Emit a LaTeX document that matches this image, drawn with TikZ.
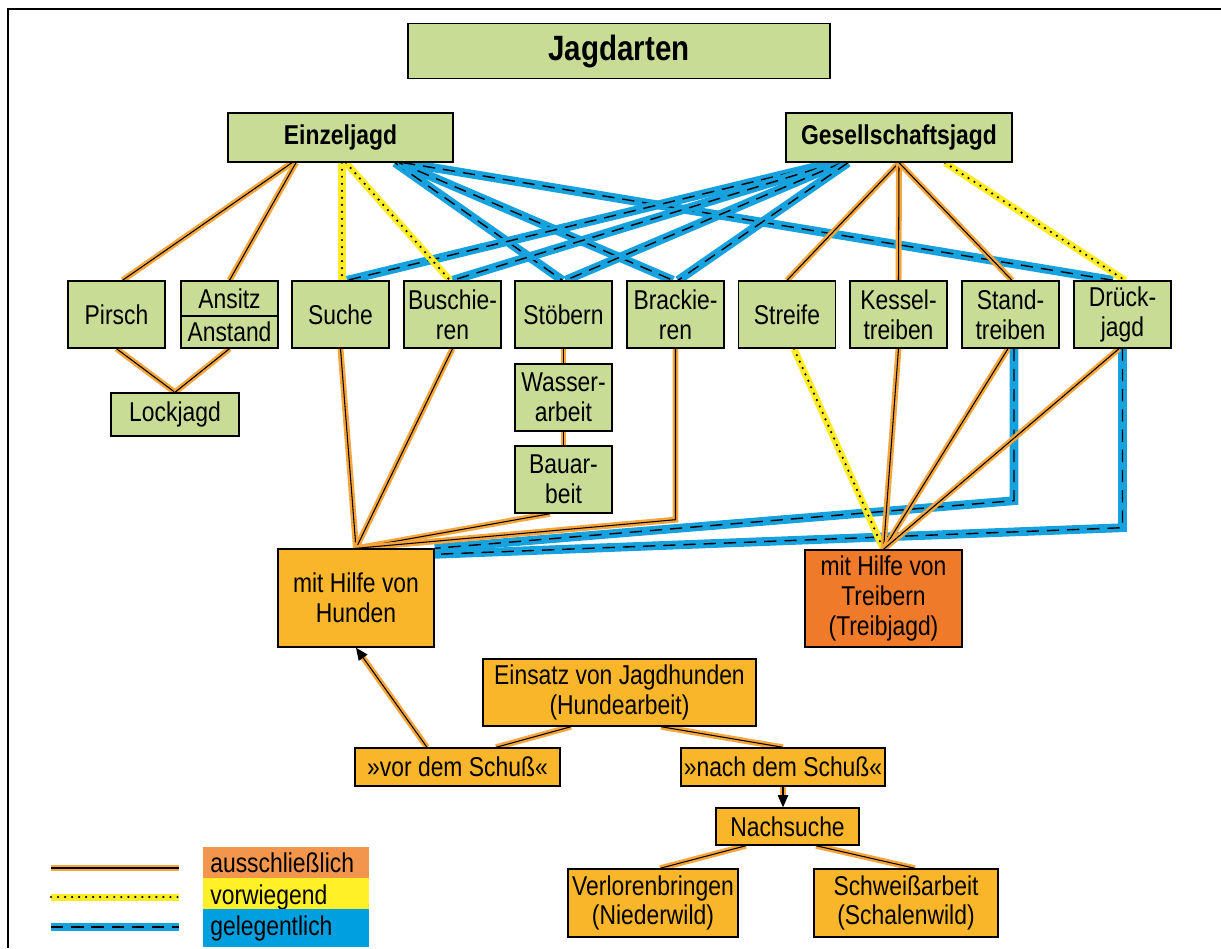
\documentclass[tikz,border=0pt]{standalone}
\usepackage{fontspec}
\setmainfont{Liberation Sans}[FakeStretch=0.84]
\usetikzlibrary{arrows.meta,backgrounds}
\definecolor{gruen}{RGB}{200,220,150}
\definecolor{hundfarbe}{RGB}{250,182,42}
\definecolor{treibfarbe}{RGB}{238,122,42}
\definecolor{linieorange}{RGB}{246,166,60}
\definecolor{liniegelb}{RGB}{255,236,40}
\definecolor{linieblau}{RGB}{22,162,222}
\definecolor{legorange}{RGB}{242,150,78}
\definecolor{leggelb}{RGB}{255,240,40}
\definecolor{legblau}{RGB}{0,160,224}
\newcommand{\grundschrift}{\fontsize{15.5}{17}\selectfont}
\begin{document}
\begin{tikzpicture}[
      x=0.02cm, y=-0.02cm,
      font=\grundschrift,
      box/.style={draw, line width=0.8pt, fill=gruen, align=center, inner sep=1pt, minimum width=1.94cm, minimum height=1.34cm},
      kasten/.style={draw, line width=0.8pt, fill=hundfarbe, align=center, inner sep=1pt},
      titel/.style={font=\grundschrift\bfseries},
      legende/.style={anchor=west, align=left, text width=3.04cm, inner xsep=0.14cm, minimum height=0.64cm},
      nur/.style={draw=linieorange, line width=3.4pt, postaction={draw=black, line width=0.6pt}},
      meist/.style={draw=liniegelb, line width=4pt, postaction={draw=black, line width=1.4pt, line cap=round, dash pattern=on 0pt off 4pt}},
      selten/.style={draw=linieblau, line width=5pt, postaction={draw=black, line width=0.8pt, dash pattern=on 7pt off 4.5pt}},
      pfeilgrund/.style={draw=linieorange, line width=3.4pt, shorten >=6pt},
      pfeil/.style={black, line width=0.6pt, -{Triangle[length=7pt, width=6pt]}}
    ]
      \useasboundingbox (0,0) rectangle (1221,948);
      \draw[line width=0.8pt] (8,948) -- (8,9) -- (1221,9);

      \node[box, minimum width=8.44cm, minimum height=1.1cm, font=\fontsize{20}{24}\selectfont\bfseries] (jagdarten) at (619,51) {Jagdarten};
      \node[box, titel, minimum width=4.5cm, minimum height=0.98cm] (einzel) at (340.5,137.5) {Einzeljagd};
      \node[box, titel, minimum width=4.52cm, minimum height=0.98cm] (gesell) at (899,137.5) {Gesellschaftsjagd};

      \node[box] (pirsch) at (116.5,314.5) {Pirsch};
      \node[box, minimum height=0.7cm] (ansitz) at (229.5,298.5) {Ansitz};
      \node[box, minimum height=0.64cm] (anstand) at (229.5,332) {Anstand};
      \node[box] (suche) at (340.5,314.5) {Suche};
      \node[box] (busch) at (452.5,314.5) {Buschie-\\ren};
      \node[box] (stoebern) at (563.5,314.5) {Stöbern};
      \node[box] (brack) at (675.5,314.5) {Brackie-\\ren};
      \node[box] (streife) at (787,314.5) {Streife};
      \node[box] (kessel) at (898.5,314.5) {Kessel-\\treiben};
      \node[box] (stand) at (1010.5,314.5) {Stand-\\treiben};
      \node[box] (drueck) at (1122.5,314.5) {Drück-\\jagd};
      \node[box] (wasser) at (563.5,397.5) {Wasser-\\arbeit};
      \node[box] (bau) at (563.5,479.5) {Bauar-\\beit};
      \node[box, minimum width=2.56cm, minimum height=0.86cm] (lock) at (175,414.5) {Lockjagd};

      \node[kasten, minimum width=3.12cm, minimum height=1.96cm] (hunden) at (356,598) {mit Hilfe von\\Hunden};
      \node[kasten, fill=treibfarbe, minimum width=3.14cm, minimum height=1.94cm] (treiber) at (883.5,598.5) {mit Hilfe von\\Treibern\\(Treibjagd)};
      \node[kasten, minimum width=5.46cm, minimum height=1.34cm] (einsatz) at (619.5,692.5) {Einsatz von Jagdhunden\\(Hundearbeit)};
      \node[kasten, minimum width=4.1cm, minimum height=0.76cm] (vor) at (457.5,767) {»vor dem Schuß«};
      \node[kasten, minimum width=4.08cm, minimum height=0.76cm] (nach) at (783,767) {»nach dem Schuß«};
      \node[kasten, minimum width=2.86cm, minimum height=0.74cm] (nachsuche) at (787.5,826.5) {Nachsuche};
      \node[kasten, minimum width=3.4cm, minimum height=1.36cm] (verloren) at (653,903) {Verlorenbringen\\(Niederwild)};
      \node[kasten, minimum width=3.68cm, minimum height=1.36cm] (schweiss) at (906,903) {Schweißarbeit\\(Schalenwild)};

      \node[legende, fill=legorange] (lnur) at (203,863) {ausschließlich};
      \node[legende, fill=leggelb] (lmeist) at (203,897) {vorwiegend};
      \node[legende, fill=legblau] (lselten) at (203,928) {gelegentlich};
      \draw[nur] (51,868) -- (179,868);
      \draw[meist] (51,897) -- (179,897);
      \draw[selten] (51,927) -- (179,927);

      \begin{scope}[on background layer]
        \draw[selten] ([xshift=1.09cm]einzel.south) -- ([xshift=-0.02cm]stoebern.north);
        \draw[selten] ([xshift=1.17cm]einzel.south) -- ([xshift=-0.05cm]brack.north);
        \draw[selten] ([xshift=1.25cm]einzel.south) -- ([xshift=-0.19cm]drueck.north);
        \draw[selten] ([xshift=-1.34cm]gesell.south) -- ([xshift=0.13cm]suche.north);
        \draw[selten] ([xshift=-1.26cm]gesell.south) -- (busch.north);
        \draw[selten] ([xshift=-1.14cm]gesell.south) -- ([xshift=0.04cm]stoebern.north);
        \draw[selten] ([xshift=-1.02cm]gesell.south) -- ([xshift=0.05cm]brack.north);
        \draw[nur] ([xshift=-0.97cm]einzel.south) -- ([xshift=0.12cm]pirsch.north);
        \draw[nur] ([xshift=-0.89cm]einzel.south) -- (ansitz.north);
        \draw[meist] ([xshift=0.03cm]einzel.south) -- ([xshift=0.03cm]suche.north);
        \draw[meist] ([xshift=0.11cm]einzel.south) -- ([xshift=-0.05cm]busch.north);
        \draw[nur] (gesell.south) -- (streife.north);
        \draw[nur] (gesell.south) -- (kessel.north);
        \draw[nur] (gesell.south) -- ([xshift=0.03cm]stand.north);
        \draw[meist] ([xshift=0.92cm]gesell.south) -- ([xshift=0.05cm]drueck.north);

        \draw[nur] (pirsch.south) -- (lock.north);
        \draw[nur] (anstand.south) -- (lock.north);
        \draw[nur] (stoebern.south) -- (wasser.north);
        \draw[nur] (wasser.south) -- (bau.north);
        \draw[selten] ([xshift=0.07cm]stand.south) -- ++(0,152) -- (hunden.north east);
        \draw[selten] (drueck.south) -- ++(0,179) -- ([yshift=-0.12cm]hunden.north east);
        \draw[nur] (suche.south) -- (hunden.north);
        \draw[nur] (busch.south) -- (hunden.north);
        \draw[nur] ([xshift=-0.27cm]bau.south) -- (hunden.north);
        \draw[nur] (brack.south) -- ++(0,171) -- (hunden.north);
        \draw[meist] ([xshift=0.14cm]streife.south) -- (treiber.north);
        \draw[nur] (kessel.south) -- (treiber.north);
        \draw[nur] ([xshift=-0.05cm]stand.south) -- (treiber.north);
        \draw[nur] ([xshift=-0.07cm]drueck.south) -- (treiber.north);

        \draw[nur] ([xshift=-0.97cm]einsatz.south) -- ([xshift=0.77cm]vor.north);
        \draw[nur] ([xshift=0.83cm]einsatz.south) -- (nach.north);
        \draw[pfeilgrund] ([xshift=-0.61cm]vor.north) -- (hunden.south);
        \draw[pfeilgrund] (nach.south) -- (nach.south |- nachsuche.north);
        \draw[nur] ([xshift=-0.83cm]nachsuche.south) -- ([xshift=0.14cm]verloren.north);
        \draw[nur] ([xshift=0.57cm]nachsuche.south) -- ([xshift=0.18cm]schweiss.north);
      \end{scope}
      \draw[pfeil] ([xshift=-0.61cm]vor.north) -- (hunden.south);
      \draw[pfeil] (nach.south) -- (nach.south |- nachsuche.north);
    \end{tikzpicture}
\end{document}
